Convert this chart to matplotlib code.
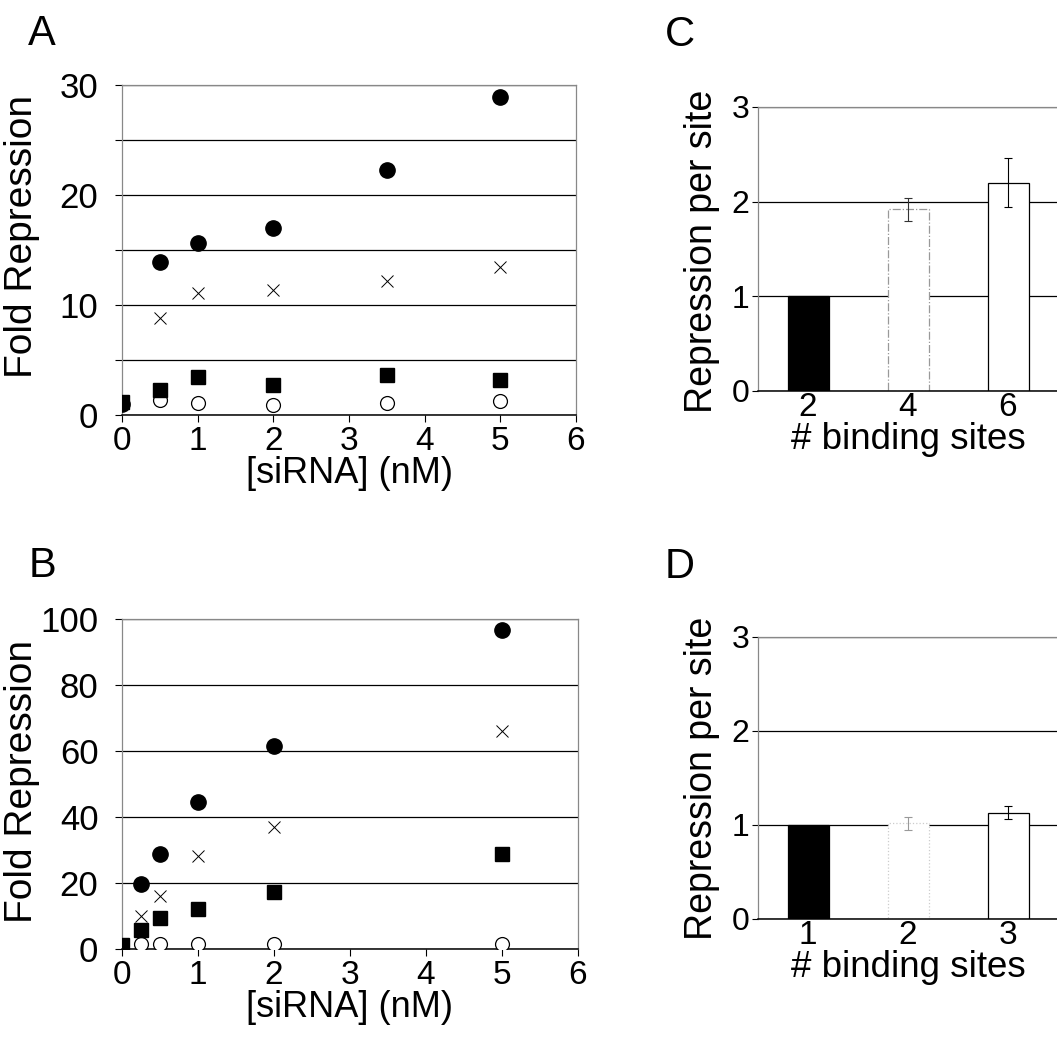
import matplotlib
matplotlib.use("Agg")
import matplotlib.pyplot as plt
from matplotlib.ticker import MultipleLocator

plt.rcParams['font.family'] = ['Liberation Sans', 'DejaVu Sans']

# ---------------- data ----------------
# Panel A
a_x_circle = [0, 0.5, 1, 2, 3.5, 5]
a_circle_filled = [1.0, 13.9, 15.6, 17.0, 22.3, 28.9]
a_x_cross = [0.5, 1, 2, 3.5, 5]
a_cross = [8.8, 11.1, 11.4, 12.2, 13.5]
a_x_square = [0, 0.5, 1, 2, 3.5, 5]
a_square = [1.15, 2.3, 3.5, 2.7, 3.6, 3.2]
a_x_open = [0.5, 1, 2, 3.5, 5]
a_open = [1.4, 1.05, 0.9, 1.1, 1.3]

# Panel B
b_x_circle = [0.25, 0.5, 1, 2, 5]
b_circle_filled = [19.6, 28.9, 44.4, 61.6, 96.6]
b_x_cross = [0.25, 0.5, 1, 2, 5]
b_cross = [10.1, 16.2, 28.1, 37.0, 66.2]
b_x_square = [0, 0.25, 0.5, 1, 2, 5]
b_square = [1.3, 5.8, 9.4, 12.2, 17.2, 28.7]
b_x_open = [0.25, 0.5, 1, 2, 5]
b_open = [1.5, 1.5, 1.5, 1.5, 1.5]

# Panel C
c_labels = ['2', '4', '6']
c_values = [1.0, 1.92, 2.20]
c_err = [0.0, 0.12, 0.26]

# Panel D
d_labels = ['1', '2', '3']
d_values = [1.0, 1.02, 1.13]
d_err = [0.0, 0.07, 0.07]

W, H = 1057, 1037
fig = plt.figure(figsize=(W / 100, H / 100), dpi=100)


def ax_at(left, top, right, bottom):
    return fig.add_axes([left / W, 1 - bottom / H, (right - left) / W, (bottom - top) / H])


GRAY = '#888888'


def style_scatter(ax, ymax, major, minor, label_y):
    ax.set_xlim(0, 6)
    ax.set_ylim(0, ymax)
    ax.xaxis.set_major_locator(MultipleLocator(1))
    ax.yaxis.set_major_locator(MultipleLocator(major))
    ax.yaxis.set_minor_locator(MultipleLocator(minor))
    ax.grid(True, which='both', axis='y', color='black', linewidth=0.9)
    ax.set_axisbelow(True)
    ax.tick_params(axis='both', which='both', direction='out', length=5, width=0.8)
    ax.tick_params(axis='x', labelsize=24, pad=3)
    ax.tick_params(axis='y', which='both', labelsize=25, pad=12)
    for s in ['left', 'right', 'top']:
        ax.spines[s].set_color(GRAY)
        ax.spines[s].set_linewidth(0.9)
    ax.spines['bottom'].set_color('black')
    ax.spines['bottom'].set_linewidth(1.1)
    ax.set_xlabel('[siRNA] (nM)', fontsize=26, labelpad=-1)
    ax.set_ylabel('Fold Repression', fontsize=28)
    ax.yaxis.set_label_coords(-82 / 455, label_y)


def plot_series(ax, xo, yo, xs, ys, xx, yx, xc, yc):
    ax.plot(xo, yo, 'o', ms=10, mfc='white', mec='black', mew=0.9, ls='none', zorder=3)
    ax.plot(xx, yx, 'x', ms=9, mec='black', mew=0.7, ls='none', zorder=3)
    ax.plot(xc, yc, 'o', ms=11, mfc='black', mec='black', ls='none', zorder=3)
    ax.plot(xs, ys, 's', ms=9.5, mfc='black', mec='black', ls='none', zorder=4)


# Panel A
axA = ax_at(122, 85, 576, 415)
plot_series(axA, a_x_open, a_open, a_x_square, a_square, a_x_cross, a_cross,
            a_x_circle, a_circle_filled)
style_scatter(axA, 30, 10, 5, 0.542)
for lbl in axA.get_yticklabels(minor=True):
    lbl.set_visible(False)

# Panel B
axB = ax_at(122, 619, 578, 949)
plot_series(axB, b_x_open, b_open, b_x_square, b_square, b_x_cross, b_cross,
            b_x_circle, b_circle_filled)
style_scatter(axB, 100, 20, 20, 0.508)


def style_bar(ax, labels, values, errs, faint_style, label_y):
    pos = list(range(1, len(labels) + 1))
    ax.set_xlim(0.5, 3.5)
    ax.set_ylim(0, 3)
    ax.yaxis.set_major_locator(MultipleLocator(1))
    ax.grid(True, axis='y', color='black', linewidth=0.9)
    ax.set_axisbelow(True)
    colors = ['black', 'white', 'white']
    edges = ['black', faint_style[0], 'black']
    styles = ['-', faint_style[1], '-']
    for i in range(3):
        ax.bar(pos[i], values[i], width=0.41, color=colors[i], edgecolor=edges[i],
               linewidth=0.9, linestyle=styles[i], zorder=2)
        if errs[i] > 0:
            ax.errorbar(pos[i], values[i], yerr=errs[i], fmt='none',
                        ecolor='black' if i == 2 else faint_style[2],
                        elinewidth=0.8, capsize=3, capthick=0.8, zorder=3)
    ax.set_xticks(pos)
    ax.set_xticklabels(labels)
    ax.tick_params(axis='x', length=0, labelsize=24, pad=1)
    ax.tick_params(axis='y', length=4, width=0.8, labelsize=23, pad=2)
    for s in ['left', 'right', 'top']:
        ax.spines[s].set_color(GRAY)
        ax.spines[s].set_linewidth(0.9)
    ax.spines['bottom'].set_color('black')
    ax.spines['bottom'].set_linewidth(1.1)
    ax.set_xlabel('# binding sites', fontsize=26.5, labelpad=-1)
    ax.set_ylabel('Repression per site', fontsize=27)
    ax.yaxis.set_label_coords(-38 / 300, label_y)


axC = ax_at(758, 107, 1058, 391)
style_bar(axC, c_labels, c_values, c_err, ('#999999', '-.', '#333333'), 0.491)

axD = ax_at(758, 637, 1058, 919)
style_bar(axD, d_labels, d_values, d_err, ('#cccccc', ':', '#999999'), 0.5)

# panel letters
for letter, x, y in [('A', 28, 45), ('B', 29, 577), ('C', 665, 46), ('D', 665, 578)]:
    fig.text(x / W, 1 - y / H, letter, fontsize=30, ha='left', va='baseline')

fig.savefig('out.png', dpi=100)
